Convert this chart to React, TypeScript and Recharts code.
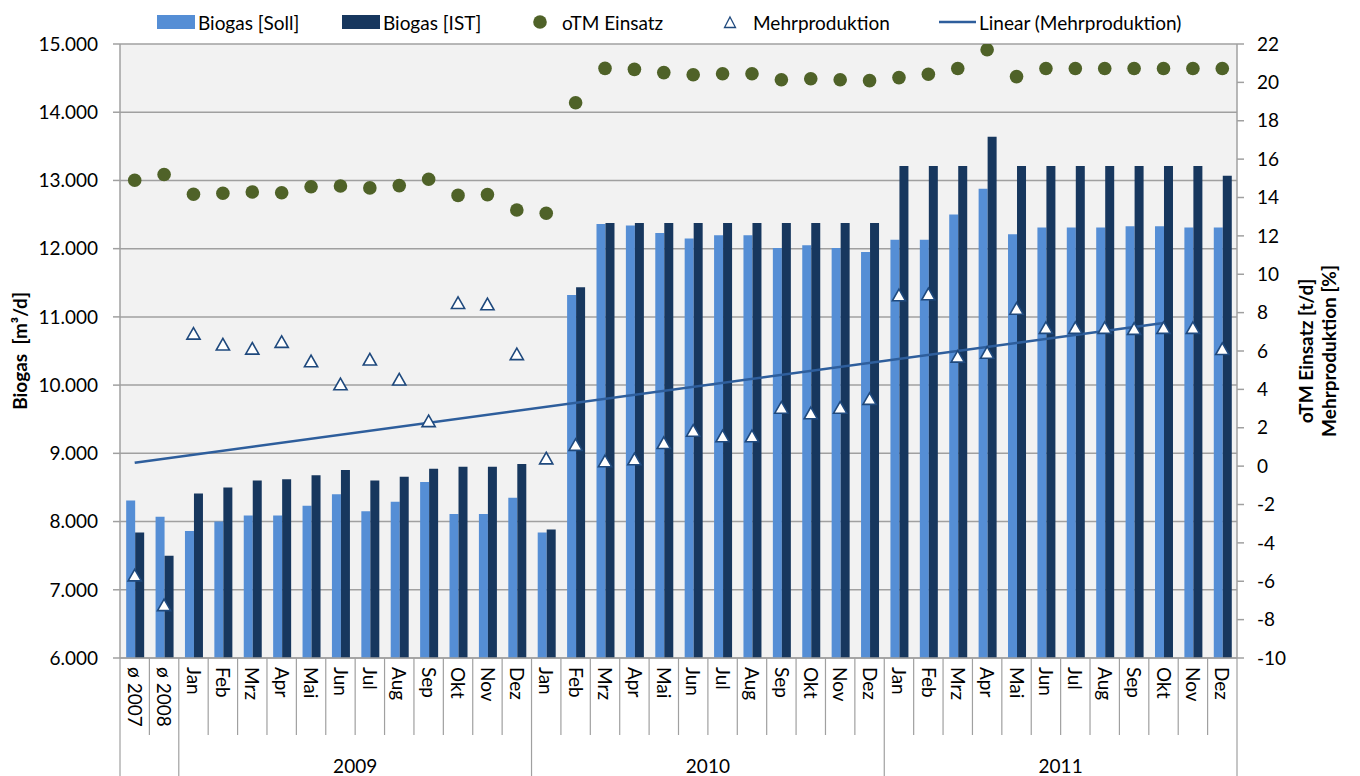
import React from 'react';
import { ComposedChart, Bar, Line, XAxis, YAxis, CartesianGrid, Legend } from 'recharts';

// ---------- data ----------
const categories = [
  'ø 2007', 'ø 2008',
  'Jan', 'Feb', 'Mrz', 'Apr', 'Mai', 'Jun', 'Jul', 'Aug', 'Sep', 'Okt', 'Nov', 'Dez',
  'Jan', 'Feb', 'Mrz', 'Apr', 'Mai', 'Jun', 'Jul', 'Aug', 'Sep', 'Okt', 'Nov', 'Dez',
  'Jan', 'Feb', 'Mrz', 'Apr', 'Mai', 'Jun', 'Jul', 'Aug', 'Sep', 'Okt', 'Nov', 'Dez',
];

const yearGroups = [
  { label: '2009', first: 2, last: 13 },
  { label: '2010', first: 14, last: 25 },
  { label: '2011', first: 26, last: 37 },
];

const biogasSoll = [
  8310, 8070,
  7860, 8000, 8090, 8090, 8230, 8400, 8150, 8290, 8580, 8110, 8110, 8350,
  7840, 11320, 12360, 12340, 12230, 12150, 12195, 12195, 12010, 12050, 12010, 11950,
  12130, 12130, 12500, 12880, 12210, 12310, 12310, 12310, 12330, 12330, 12310, 12310,
];

const biogasIst = [
  7840, 7500,
  8410, 8500, 8600, 8620, 8680, 8755, 8600, 8655, 8775, 8805, 8805, 8845,
  7885, 11435, 12375, 12375, 12375, 12375, 12375, 12375, 12375, 12375, 12375, 12375,
  13210, 13210, 13210, 13640, 13210, 13210, 13210, 13210, 13210, 13210, 13210, 13070,
];

const otmEinsatz = [
  14.9, 15.2,
  14.17, 14.22, 14.29, 14.25, 14.56, 14.6, 14.5, 14.62, 14.95, 14.11, 14.15, 13.35,
  13.18, 18.94, 20.73, 20.68, 20.51, 20.4, 20.45, 20.45, 20.14, 20.19, 20.14, 20.09,
  20.25, 20.42, 20.72, 21.7, 20.3, 20.72, 20.72, 20.72, 20.72, 20.72, 20.72, 20.72,
];

const mehrproduktion = [
  -5.7, -7.25,
  6.9, 6.33, 6.12, 6.47, 5.46, 4.26, 5.55, 4.51, 2.34, 8.5, 8.43, 5.83,
  0.4, 1.1, 0.25, 0.35, 1.2, 1.84, 1.55, 1.55, 3.04, 2.75, 3.04, 3.5,
  8.9, 8.95, 5.7, 5.9, 8.2, 7.2, 7.2, 7.2, 7.15, 7.2, 7.2, 6.1,
];

// linear trend of Mehrproduktion as drawn: start and end points
const trendPoints = [
  { index: 0, value: 0.18 },
  { index: 35, value: 7.46 },
];

const leftTicks = [6000, 7000, 8000, 9000, 10000, 11000, 12000, 13000, 14000, 15000];
const rightTicks = [-10, -8, -6, -4, -2, 0, 2, 4, 6, 8, 10, 12, 14, 16, 18, 20, 22];

const legendLabels = ['Biogas [Soll]', 'Biogas [IST]', 'oTM Einsatz', 'Mehrproduktion', 'Linear (Mehrproduktion)'];
const leftTitle = 'Biogas\u00a0 [m³/d]';
const rightTitles = ['oTM Einsatz [t/d]', 'Mehrproduktion [%]'];

// ---------- layout / style ----------
const W = 1360;
const H = 776;
const LEFT_W = 120;
const RIGHT_W = 123;
const PLOT_W = W - LEFT_W - RIGHT_W;
const BW = PLOT_W / categories.length;
const X_AXIS_H = 118;
const FONT = 'Lato, "Open Sans", sans-serif';
const FS = 19;
const GRID = '#a0a0a0';
const C_SOLL = '#558ed5';
const C_IST = '#17375e';
const C_OTM = '#4f6228';
const C_TRI = '#1f497d';
const C_TREND = '#2e5e9c';

const data = categories.map((c, i) => {
  const tp = trendPoints.find((t) => t.index === i);
  return {
    key: i,
    label: c,
    soll: biogasSoll[i],
    ist: biogasIst[i],
    otm: otmEinsatz[i],
    mehr: mehrproduktion[i],
    trend: tp ? tp.value : null,
  };
});

const groupStarts = new Set([0, ...yearGroups.map((g) => g.first)]);

const fmtThousands = (v: number) => String(v).replace(/\B(?=(\d{3})+(?!\d))/g, '.');

const renderXTick = (props: any) => {
  const { x, y, payload } = props;
  const idx = Number(payload.value);
  const bottom = H;
  const left = x - BW / 2;
  const isLong = groupStarts.has(idx);
  const els: any[] = [];
  els.push(
    <line key="l" x1={left} y1={y} x2={left} y2={isLong ? bottom : y + 77} stroke={GRID} strokeWidth={1.2} />
  );
  if (idx === categories.length - 1) {
    els.push(<line key="r" x1={x + BW / 2} y1={y} x2={x + BW / 2} y2={bottom} stroke={GRID} strokeWidth={1.2} />);
  }
  els.push(
    <text
      key="t"
      transform={`translate(${x},${y + 9}) rotate(90)`}
      textAnchor="start"
      dy="0.36em"
      fontSize={FS}
      fontFamily={FONT}
      fill="#000"
    >
      {categories[idx]}
    </text>
  );
  const g = yearGroups.find((gg) => gg.first === idx);
  if (g) {
    const cx = x + ((g.last - g.first) * BW) / 2;
    els.push(
      <text key="y" x={cx} y={766} textAnchor="middle" dy="0.36em" fontSize={FS} fontFamily={FONT} fill="#000">
        {g.label}
      </text>
    );
  }
  return <g>{els}</g>;
};

const renderCircle = (props: any) => {
  const { cx, cy, index } = props;
  if (cx == null || cy == null) return <g key={`c${index}`} />;
  return <circle key={`c${index}`} cx={cx} cy={cy} r={6.8} fill={C_OTM} stroke="none" />;
};

const triPath = (cx: number, cy: number) =>
  `M${cx},${cy - 6.2} L${cx + 6.6},${cy + 5.4} L${cx - 6.6},${cy + 5.4} Z`;

const renderTriangle = (props: any) => {
  const { cx, cy, index } = props;
  if (cx == null || cy == null) return <g key={`t${index}`} />;
  return <path key={`t${index}`} d={triPath(cx, cy)} fill="#fff" stroke={C_TRI} strokeWidth={1.6} strokeLinejoin="miter" />;
};

const renderLeftTitle = () => (
  <text
    transform={`translate(20,351) rotate(-90)`}
    textAnchor="middle"
    dy="0.36em"
    fontSize={FS}
    fontWeight="bold"
    fontFamily={FONT}
    fill="#000"
  >
    {leftTitle}
  </text>
);

const renderRightTitle = () => (
  <g>
    <text
      transform={`translate(1306,351) rotate(-90)`}
      textAnchor="middle"
      dy="0.36em"
      fontSize={FS}
      fontWeight="bold"
      fontFamily={FONT}
      fill="#000"
    >
      {rightTitles[0]}
    </text>
    <text
      transform={`translate(1329,351) rotate(-90)`}
      textAnchor="middle"
      dy="0.36em"
      fontSize={FS}
      fontWeight="bold"
      fontFamily={FONT}
      fill="#000"
    >
      {rightTitles[1]}
    </text>
  </g>
);

const itemStyle = (left: number): React.CSSProperties => ({
  position: 'absolute',
  left,
  top: 0,
  height: 30,
  display: 'flex',
  alignItems: 'center',
  whiteSpace: 'nowrap',
});

const renderLegend = () => (
  <div style={{ position: 'relative', width: W, height: 30, fontFamily: FONT, fontSize: FS, color: '#000' }}>
    <div style={itemStyle(157)}>
      <span style={{ display: 'inline-block', width: 38, height: 14, background: C_SOLL, marginRight: 3 }} />
      <span>{legendLabels[0]}</span>
    </div>
    <div style={itemStyle(342)}>
      <span style={{ display: 'inline-block', width: 38, height: 14, background: C_IST, marginRight: 3 }} />
      <span>{legendLabels[1]}</span>
    </div>
    <div style={itemStyle(533)}>
      <svg width={14} height={14} style={{ marginRight: 15 }}>
        <circle cx={7} cy={7} r={6.8} fill={C_OTM} />
      </svg>
      <span>{legendLabels[2]}</span>
    </div>
    <div style={itemStyle(723)}>
      <svg width={14} height={14} style={{ marginRight: 16 }}>
        <path d="M7,2 L12.5,12.5 L1.5,12.5 Z" fill="#fff" stroke={C_TRI} strokeWidth={1.3} />
      </svg>
      <span>{legendLabels[3]}</span>
    </div>
    <div style={itemStyle(939)}>
      <svg width={37} height={14} style={{ marginRight: 3 }}>
        <line x1={0} y1={7} x2={37} y2={7} stroke={C_TREND} strokeWidth={2.5} />
      </svg>
      <span>{legendLabels[4]}</span>
    </div>
  </div>
);

export default function App() {
  return (
    <div style={{ position: 'absolute', left: 0, top: 0, width: W, height: H, background: '#fff' }}>
      <ComposedChart
        width={W}
        height={H}
        data={data}
        margin={{ top: 14, right: 0, bottom: 0, left: 0 }}
        barCategoryGap="21%"
        barGap={0}
        style={{ fontFamily: FONT }}
      >
        <CartesianGrid
          yAxisId="left"
          vertical={false}
          stroke={GRID}
          strokeWidth={1.5}
          fill="#f2f2f2"
          fillOpacity={1}
        />
        <Legend verticalAlign="top" content={renderLegend} wrapperStyle={{ top: 7, left: 0, width: W, height: 30 }} />
        <XAxis
          dataKey="key"
          height={X_AXIS_H}
          interval={0}
          tickLine={false}
          tickSize={0}
          tickMargin={0}
          tick={renderXTick}
          axisLine={{ stroke: GRID, strokeWidth: 1.5 }}
        />
        <YAxis
          yAxisId="left"
          orientation="left"
          width={LEFT_W}
          domain={[6000, 15000]}
          ticks={leftTicks}
          interval={0}
          allowDataOverflow
          tickFormatter={fmtThousands}
          tick={{ fill: '#000', fontSize: FS, fontFamily: FONT }}
          tickSize={7}
          tickMargin={15}
          axisLine={{ stroke: GRID, strokeWidth: 1.5 }}
          tickLine={{ stroke: GRID, strokeWidth: 1.5 }}
          label={renderLeftTitle}
        />
        <YAxis
          yAxisId="right"
          orientation="right"
          width={RIGHT_W}
          domain={[-10, 22]}
          ticks={rightTicks}
          interval={0}
          allowDataOverflow
          tick={{ fill: '#000', fontSize: FS, fontFamily: FONT }}
          tickSize={7}
          tickMargin={13}
          axisLine={{ stroke: GRID, strokeWidth: 1.5 }}
          tickLine={{ stroke: GRID, strokeWidth: 1.5 }}
          label={renderRightTitle}
        />
        <Bar yAxisId="left" dataKey="soll" name={legendLabels[0]} fill={C_SOLL} isAnimationActive={false} />
        <Bar yAxisId="left" dataKey="ist" name={legendLabels[1]} fill={C_IST} isAnimationActive={false} />
        <Line
          yAxisId="right"
          dataKey="trend"
          name={legendLabels[4]}
          stroke={C_TREND}
          strokeWidth={2.6}
          dot={false}
          activeDot={false}
          connectNulls
          isAnimationActive={false}
        />
        <Line
          yAxisId="right"
          dataKey="otm"
          name={legendLabels[2]}
          stroke="none"
          dot={renderCircle}
          activeDot={false}
          isAnimationActive={false}
        />
        <Line
          yAxisId="right"
          dataKey="mehr"
          name={legendLabels[3]}
          stroke="none"
          dot={renderTriangle}
          activeDot={false}
          isAnimationActive={false}
        />
      </ComposedChart>
    </div>
  );
}
